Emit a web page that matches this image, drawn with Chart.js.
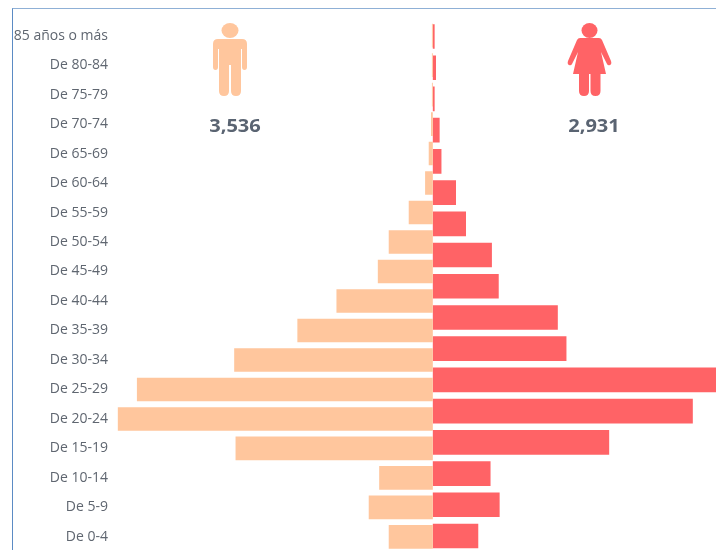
<!DOCTYPE html>
<html lang="es">

<head>
    <meta charset="UTF-8">
    <title>Pirámide de población</title>
    <script src="https://cdn.jsdelivr.net/npm/chart.js"></script>
    <style>
        html, body { margin: 0; padding: 0; width: 716px; height: 550px; overflow: hidden; background: #fff; }
        #frame { position: absolute; left: 12px; top: 8px; width: 704px; height: 542px; border-top: 1px solid #8fb0d6; border-left: 1px solid #5b8bc4; box-sizing: border-box; }
        #pyramid { position: absolute; left: 0; top: 0; }
        .total { position: absolute; top: 114px; width: 120px; text-align: center; font: bold 17px "Open Sans", sans-serif; color: #5a6472; transform: scaleX(1.18); }
        .icon { position: absolute; top: 21px; }
    </style>
</head>

<body>
    <canvas id="pyramid" width="716" height="560"></canvas>
    <div id="frame"></div>

    <!-- Hombre -->
    <svg class="icon" style="left:211px" width="38" height="76" viewBox="0 0 38 76">
        <ellipse cx="19" cy="9.5" rx="8.5" ry="7.5" fill="#ffc69d"/>
        <path d="M7 18h24q5 0 5 5v23q0 3-2.500 3t-2.500-3V28h-1v42q0 5-5 5t-5-5V44h-2v26q0 5-5 5t-5-5V28H7v18q0 3-2.500 3T2 46V23q0-5 5-5z" fill="#ffc69d"/>
    </svg>
    <!-- Mujer -->
    <svg class="icon" style="left:567px" width="46" height="76" viewBox="0 0 46 76">
        <ellipse cx="22.500" cy="9.500" rx="8" ry="7.500" fill="#ff6366"/>
        <path d="M13 17h19q2 0 3 2l9 21q1 3-1 4t-3-1l-6-12 5 22H33.500v17q0 5-5 5t-5-5V53h-1.500v17q0 5-5 5t-5-5V53H6l5-22-6 12q-1 2-3 1t-1-4l9-21q1-2 3-2z" fill="#ff6366"/>
    </svg>

    <div class="total" style="left:175px">3,536</div>
    <div class="total" style="left:534px">2,931</div>

    <script>
        const ageGroups = ['85 años o más', 'De 80-84', 'De 75-79', 'De 70-74', 'De 65-69', 'De 60-64', 'De 55-59', 'De 50-54', 'De 45-49', 'De 40-44', 'De 35-39', 'De 30-34', 'De 25-29', 'De 20-24', 'De 15-19', 'De 10-14', 'De 5-9', 'De 0-4'];
        // the female bars in the picture only have 17 rows, they do not line up with the labels
        const womenRows = ['r1', 'r2', 'r3', 'r4', 'r5', 'r6', 'r7', 'r8', 'r9', 'r10', 'r11', 'r12', 'r13', 'r14', 'r15', 'r16', 'r17'];
        const men = [-2, -2, -2, -4, -9, -17, -53, -97, -121, -212, -298, -437, -651, -693, -434, -118, -141, -97];
        const women = [4, 7, 4, 15, 19, 51, 73, 130, 145, 275, 294, 624, 572, 388, 127, 147, 100];

        new Chart(document.getElementById('pyramid').getContext('2d'), {
            type: 'bar',
            data: {
                labels: ageGroups,
                datasets: [
                    { label: 'Hombres', data: men, backgroundColor: '#ffc69d', yAxisID: 'y', barPercentage: 0.8, grouped: false },
                    { label: 'Mujeres', data: women, backgroundColor: '#ff6366', yAxisID: 'yWomen', barPercentage: 0.79, grouped: false }
                ]
            },
            options: {
                indexAxis: 'y',
                responsive: false,
                maintainAspectRatio: false,
                animation: false,
                categoryPercentage: 1,
                layout: { padding: { top: 20.9, bottom: 6.7, left: 0, right: 0 } },
                plugins: { legend: { display: false }, tooltip: { enabled: false } },
                scales: {
                    x: { display: false, min: -697, max: 623 },
                    y: {
                        grid: { display: false },
                        border: { display: false },
                        afterFit: axis => { axis.width = 116; },
                        ticks: { autoSkip: false, padding: 0, color: '#5f6670', font: { family: '"Open Sans", sans-serif', size: 14 } }
                    },
                    yWomen: { type: 'category', labels: womenRows, display: false, offset: true }
                }
            }
        });
    </script>
</body>

</html>
